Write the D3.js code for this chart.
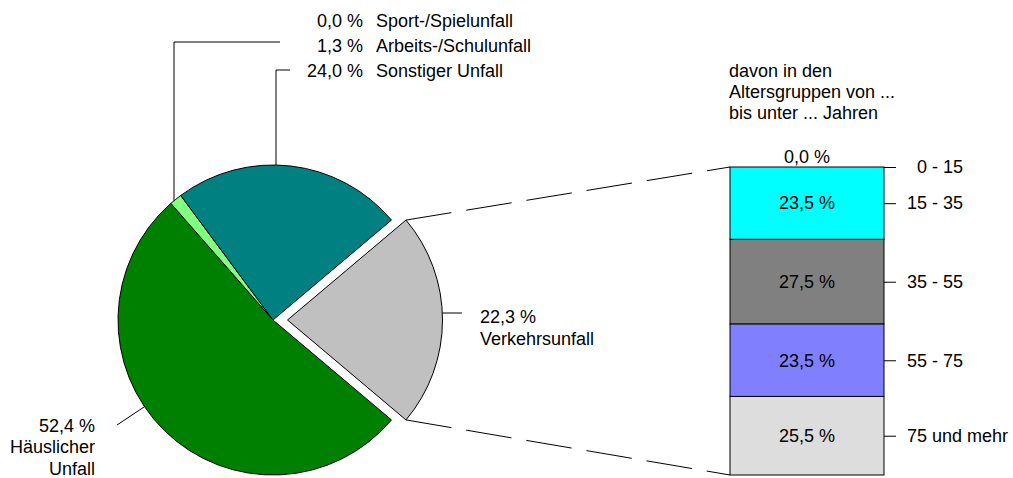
<!DOCTYPE html>
<html>
<head>
<meta charset="utf-8">
<script src="https://cdn.jsdelivr.net/npm/d3@7"></script>
<style>
  body { margin: 0; background: #fff; }
  svg text { font-family: "Liberation Sans", Arial, sans-serif; font-size: 18px; fill: #000; }
</style>
</head>
<body>
<div class="container"></div>
<script>
// pie data (order = clockwise, starting with the exploded slice)
const pieCategories = ["Verkehrsunfall", "Häuslicher Unfall", "Arbeits-/Schulunfall", "Sport-/Spielunfall", "Sonstiger Unfall"];
const pieValues = [22.3, 52.4, 1.3, 0.0, 24.0];
const pieColors = ["#c0c0c0", "#008000", "#80ff80", "#ffff80", "#008080"];

// stacked bar: age groups of Verkehrsunfall
const ageGroups = ["0 - 15", "15 - 35", "35 - 55", "55 - 75", "75 und mehr"];
const ageValues = [0.0, 23.5, 27.5, 23.5, 25.5];
const ageColors = ["#ffffff", "#00ffff", "#808080", "#8080ff", "#dddddd"];

const barTitle = ["davon in den", "Altersgruppen von ...", "bis unter ... Jahren"];

const w = 1013;
const h = 478;
const cx = 273;
const cy = 320;
const r = 155;
const explode = 14.5;

const fmt = (v) => v.toFixed(1).replace(".", ",") + " %";

const svg = d3.select(".container")
              .append("svg")
              .attr("width", w)
              .attr("height", h);

// ---- pie ----
const a0 = Math.PI / 2 - Math.PI * pieValues[0] / 100;
const pie = d3.pie().sort(null).value((d) => d).startAngle(a0).endAngle(a0 + 2 * Math.PI);
const arcs = pie(pieValues);
const arc = d3.arc().innerRadius(0).outerRadius(r);

const offset = (d) => {
  if (d.index !== 0) return [0, 0];
  const m = (d.startAngle + d.endAngle) / 2;
  return [explode * Math.sin(m), -explode * Math.cos(m)];
};

svg.append("g")
   .attr("transform", `translate(${cx}, ${cy})`)
   .selectAll("path")
   .data(arcs.filter((d) => d.value > 0)).enter()
   .append("path")
   .attr("d", arc)
   .attr("transform", (d) => `translate(${offset(d)})`)
   .style("fill", (d) => pieColors[d.index])
   .style("stroke", "#000")
   .style("stroke-width", 1);

const onCircle = (ang, ox = 0) => [cx + ox + r * Math.sin(ang), cy - r * Math.cos(ang)];
const line = d3.line();
const leader = (pts) => svg.append("path")
                         .attr("d", line(pts))
                         .style("fill", "none")
                         .style("stroke", "#000")
                         .style("stroke-width", 1);

// header labels (top, stacked)
const headerIdx = [3, 2, 4];
headerIdx.forEach((k, j) => {
  const y = 26.5 + j * 25.3;
  svg.append("text").attr("x", 363).attr("y", y).attr("text-anchor", "end").text(fmt(pieValues[k]));
  svg.append("text").attr("x", 376).attr("y", y).text(pieCategories[k]);
});

// Arbeits-/Schulunfall leader
const xa = 174;
leader([[280, 42], [xa, 42], [xa, cy - Math.sqrt(r * r - (xa - cx) ** 2)]]);
// Sonstiger Unfall leader
const xs = 276;
leader([[290, 70], [xs, 70], [xs, cy - Math.sqrt(r * r - (xs - cx) ** 2)]]);

// Verkehrsunfall label
const exX = cx + offset(arcs[0])[0];
leader([[exX + Math.sqrt(r * r - 49), 313], [462, 313]]);
svg.append("text").attr("x", 480).attr("y", 323).text(fmt(pieValues[0]));
svg.append("text").attr("x", 480).attr("y", 345).text(pieCategories[0]);

// Häuslicher Unfall label
const hp = onCircle(236 * Math.PI / 180);
leader([hp, [117, 425]]);
const hl = [fmt(pieValues[1]), "Häuslicher", "Unfall"];
hl.forEach((t, j) => {
  svg.append("text").attr("x", 95).attr("y", 431.5 + j * 21.5).attr("text-anchor", "end").text(t);
});

// ---- stacked bar ----
const bx0 = 730;
const bx1 = 884;
const yScale = d3.scaleLinear().domain([0, 100]).range([167, 475]);
const cum = d3.cumsum([0].concat(ageValues)); // starts of segments

const bar = svg.append("g");
bar.selectAll("rect")
   .data(ageValues).enter()
   .append("rect")
   .attr("x", bx0)
   .attr("y", (d, i) => yScale(cum[i]))
   .attr("width", bx1 - bx0)
   .attr("height", (d) => yScale(d) - yScale(0))
   .style("fill", (d, i) => ageColors[i])
   .style("stroke", "#000")
   .style("stroke-width", 1);

bar.selectAll("text.val")
   .data(ageValues).enter()
   .append("text")
   .attr("class", "val")
   .attr("x", (bx0 + bx1) / 2)
   .attr("y", (d, i) => d > 0 ? yScale(cum[i] + d / 2) : yScale(cum[i]) - 4)
   .attr("dy", (d) => d > 0 ? "0.35em" : 0)
   .attr("text-anchor", "middle")
   .text((d) => fmt(d));

const mids = ageValues.map((d, i) => cum[i] + d / 2);
const yAxis = d3.axisRight(yScale)
                .tickValues(mids)
                .tickSize(12)
                .tickPadding(11)
                .tickFormat((d, i) => (ageGroups[i] === "0 - 15" ? "\u2007" : "") + ageGroups[i]);
const ax = svg.append("g")
              .attr("transform", `translate(${bx1}, 0)`)
              .call(yAxis);
ax.select(".domain").remove();
ax.selectAll("line").style("stroke", "#000");
ax.selectAll("text").attr("font-size", null).attr("font-family", null);

// bar title
barTitle.forEach((t, j) => {
  svg.append("text").attr("x", 729).attr("y", 76.7 + j * 21.3).text(t);
});

// dashed connectors
const p0 = onCircle(arcs[0].startAngle, exX - cx);
const p1 = onCircle(arcs[0].endAngle, exX - cx);
[[p0, [bx0, yScale(0)]], [p1, [bx0, yScale(100)]]].forEach((pts) => {
  leader(pts).style("stroke-dasharray", "46,15");
});
</script>
</body>
</html>
